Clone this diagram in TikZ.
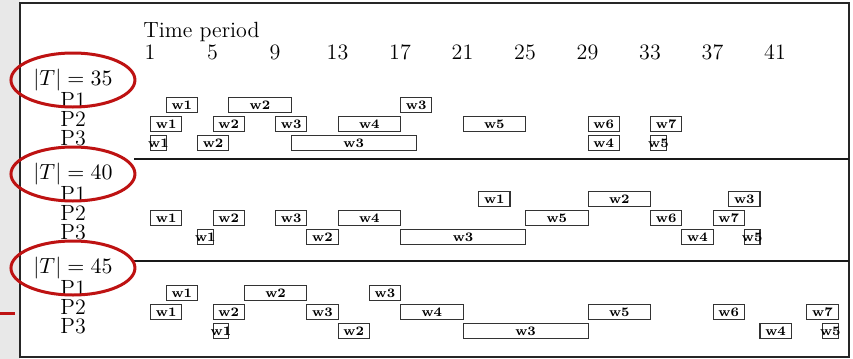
\documentclass[tikz,border=0pt]{standalone}
\usepackage{tikz}
\usetikzlibrary{positioning, calc, shapes.geometric}
\definecolor{ringred}{RGB}{190,18,18}

\begin{document}
\begin{tikzpicture}[x=0.5pt, y=-0.5pt,
  task/.style={draw=black!80, semithick, inner sep=0pt, minimum height=7.5pt, anchor=west},
  lbl/.style={anchor=west, inner sep=0pt, font=\fontsize{11}{13}\selectfont},
  num/.style={anchor=base, inner sep=0pt, font=\fontsize{11}{13}\selectfont},
  ring/.style={draw=ringred, line width=1.5pt},
  every label/.append style={inner sep=0pt, font=\fontsize{6.5}{7}\selectfont\bfseries}]
  \useasboundingbox (0,0) rectangle (853,359);
  \fill[black!9] (0,0) rectangle (20,359);
  \fill[white] (20,3) rectangle (849,357);
  \draw[black!85, line width=1pt] (20,3) rectangle (849,357);

  % header
  \node[lbl, anchor=base west] (title) at (143,37) {Time period};
  \foreach \n in {1,5,...,41} {
    \node[num] (t\n) at ({150+(\n-1)*15.625}, 59) {\n};
  }

  % separators
  \draw[black!90, thick] (134,159) -- (849,159);
  \draw[black!90, thick] (134,261) -- (849,261);

  % instance labels and rows
  \foreach \s/\n in {1/35, 2/40, 3/45} {
    \node[lbl] (T\s) at (33, {80+94*(\s-1)}) {$|T| = \n$};
    \foreach \r in {1,2,3}
      \node[lbl] (P\s\r) at (60, {100+94*(\s-1)+19*(\r-1)}) {P\r};
    \draw[ring] (T\s) ellipse [x radius=31pt, y radius=13.5pt];
  }
  \draw[ring] (0,313) -- (15,313);

  % section/row/start/length/name
  \foreach \s/\r/\p/\l/\w in {
      1/1/2/2/w1, 1/1/6/4/w2, 1/1/17/2/w3,
      1/2/1/2/w1, 1/2/5/2/w2, 1/2/9/2/w3, 1/2/13/4/w4, 1/2/21/4/w5, 1/2/29/2/w6, 1/2/33/2/w7,
      1/3/1/1/w1, 1/3/4/2/w2, 1/3/10/8/w3, 1/3/29/2/w4, 1/3/33/1/w5,
      2/1/22/2/w1, 2/1/29/4/w2, 2/1/38/2/w3,
      2/2/1/2/w1, 2/2/5/2/w2, 2/2/9/2/w3, 2/2/13/4/w4, 2/2/25/4/w5, 2/2/33/2/w6, 2/2/37/2/w7,
      2/3/4/1/w1, 2/3/11/2/w2, 2/3/17/8/w3, 2/3/35/2/w4, 2/3/39/1/w5,
      3/1/2/2/w1, 3/1/7/4/w2, 3/1/15/2/w3,
      3/2/1/2/w1, 3/2/5/2/w2, 3/2/11/2/w3, 3/2/17/4/w4, 3/2/29/4/w5, 3/2/37/2/w6, 3/2/43/2/w7,
      3/3/5/1/w1, 3/3/13/2/w2, 3/3/21/8/w3, 3/3/40/2/w4, 3/3/44/1/w5} {
    \node[task, minimum width={\l*7.8125pt}, label={center:\w}] (b\s\r\w)
      at ({150+(\p-1)*15.625}, {105+94*(\s-1)+19*(\r-1)}) {};
  }
\end{tikzpicture}
\end{document}
